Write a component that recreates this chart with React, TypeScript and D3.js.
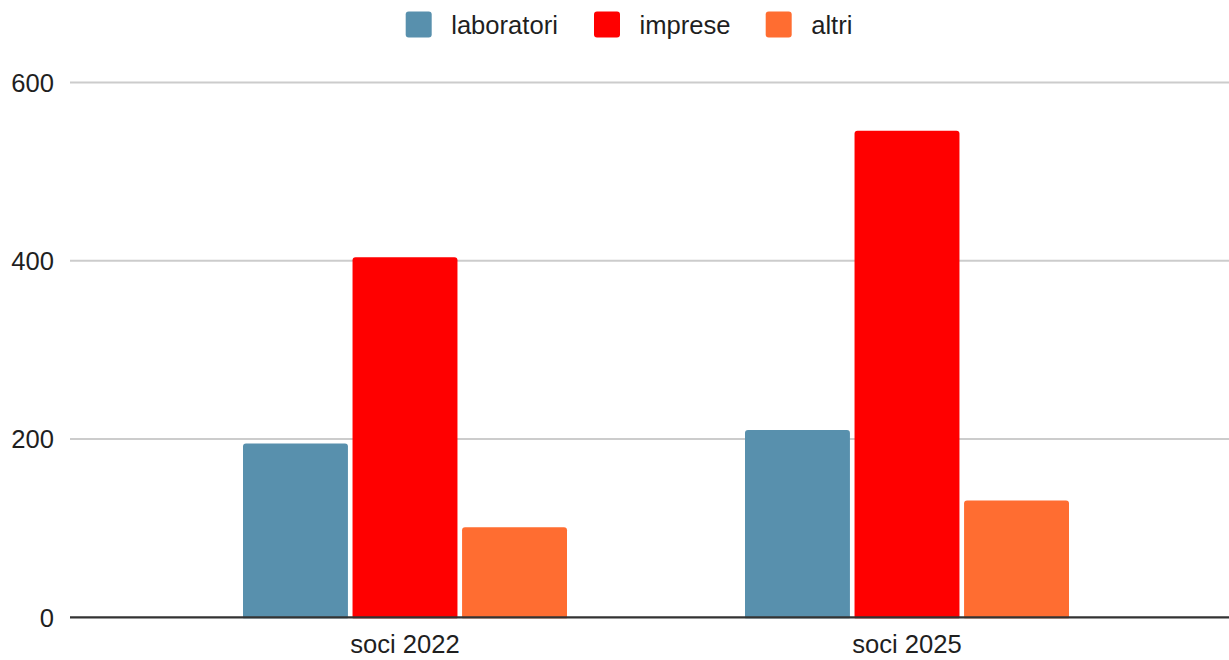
import { useEffect, useRef } from "react";
import * as d3 from "d3";

const CATEGORIES = ["soci 2022", "soci 2025"];
const SERIES = ["laboratori", "imprese", "altri"];
const LABORATORI = [195, 210];
const IMPRESE = [404, 546];
const ALTRI = [101, 131];
const Y_TICKS = [0, 200, 400, 600];
const COLORS = ["#5890ad", "#ff0000", "#ff6d31"];

const WIDTH = 1229;
const HEIGHT = 660;
const FONT = "'Liberation Sans', Arial, sans-serif";
const FONT_SIZE = 25.6;

export default function App() {
  const svgRef = useRef<SVGSVGElement>(null);

  useEffect(() => {
    document.body.style.margin = "0";
    const svgEl = svgRef.current;
    if (!svgEl) {
      return;
    }

    const values = [LABORATORI, IMPRESE, ALTRI];
    const plot = { left: 70, right: WIDTH, top: 82.5, bottom: 617.3 };

    const y = d3.scaleLinear().domain([0, 600]).range([plot.bottom, plot.top]);
    const x0 = d3.scaleBand<string>().domain(CATEGORIES).range([154, 1158]).padding(0);
    const x1 = d3
      .scaleBand<string>()
      .domain(SERIES)
      .range([-162, 162])
      .paddingInner(0.042);

    const root = d3.select(svgEl);
    root.selectAll("*").remove();

    // gridlines
    root
      .append("g")
      .selectAll("line")
      .data(Y_TICKS.filter((t) => t > 0))
      .join("line")
      .attr("x1", plot.left)
      .attr("x2", plot.right)
      .attr("y1", (d) => y(d))
      .attr("y2", (d) => y(d))
      .attr("stroke", "#cccccc")
      .attr("stroke-width", 2);

    root
      .append("g")
      .selectAll("text")
      .data(Y_TICKS)
      .join("text")
      .attr("x", 54)
      .attr("y", (d) => y(d))
      .attr("dy", "0.36em")
      .attr("text-anchor", "end")
      .attr("font-family", FONT)
      .attr("font-size", FONT_SIZE)
      .attr("fill", "#1f1f1f")
      .text((d) => String(d));

    // bars
    const groups = root
      .append("g")
      .selectAll("g")
      .data(CATEGORIES)
      .join("g")
      .attr("transform", (d) => `translate(${(x0(d) ?? 0) + x0.bandwidth() / 2},0)`);

    groups
      .selectAll("rect")
      .data((_, ci) => SERIES.map((s, si) => ({ s, si, v: values[si][ci] })))
      .join("rect")
      .attr("x", (d) => x1(d.s) ?? 0)
      .attr("y", (d) => y(d.v))
      .attr("width", x1.bandwidth())
      .attr("height", (d) => y(0) - y(d.v) + 3)
      .attr("rx", 3)
      .attr("fill", (d) => COLORS[d.si]);

    // white cover under baseline for bar overflow
    root
      .append("rect")
      .attr("x", plot.left)
      .attr("y", y(0) + 1)
      .attr("width", plot.right - plot.left)
      .attr("height", 4)
      .attr("fill", "#fff");

    // baseline
    root
      .append("line")
      .attr("x1", plot.left)
      .attr("x2", plot.right)
      .attr("y1", y(0))
      .attr("y2", y(0))
      .attr("stroke", "#333")
      .attr("stroke-width", 2.2);

    root
      .append("g")
      .selectAll("text")
      .data(CATEGORIES)
      .join("text")
      .attr("x", (d) => (x0(d) ?? 0) + x0.bandwidth() / 2)
      .attr("y", 653)
      .attr("text-anchor", "middle")
      .attr("font-family", FONT)
      .attr("font-size", FONT_SIZE)
      .attr("fill", "#1f1f1f")
      .text((d) => d);

    // legend
    const legendX = [405.7, 594, 765.7];
    const legend = root
      .append("g")
      .selectAll("g")
      .data(SERIES)
      .join("g")
      .attr("transform", (_, i) => `translate(${legendX[i]},11.5)`);
    legend
      .append("rect")
      .attr("width", 26)
      .attr("height", 26)
      .attr("rx", 3)
      .attr("fill", (_, i) => COLORS[i]);
    legend
      .append("text")
      .attr("x", 45.5)
      .attr("y", 13)
      .attr("dy", "0.36em")
      .attr("font-family", FONT)
      .attr("font-size", FONT_SIZE)
      .attr("fill", "#1f1f1f")
      .text((d) => d);
  }, []);

  return <svg ref={svgRef} width={WIDTH} height={HEIGHT} style={{ display: "block" }} />;
}
